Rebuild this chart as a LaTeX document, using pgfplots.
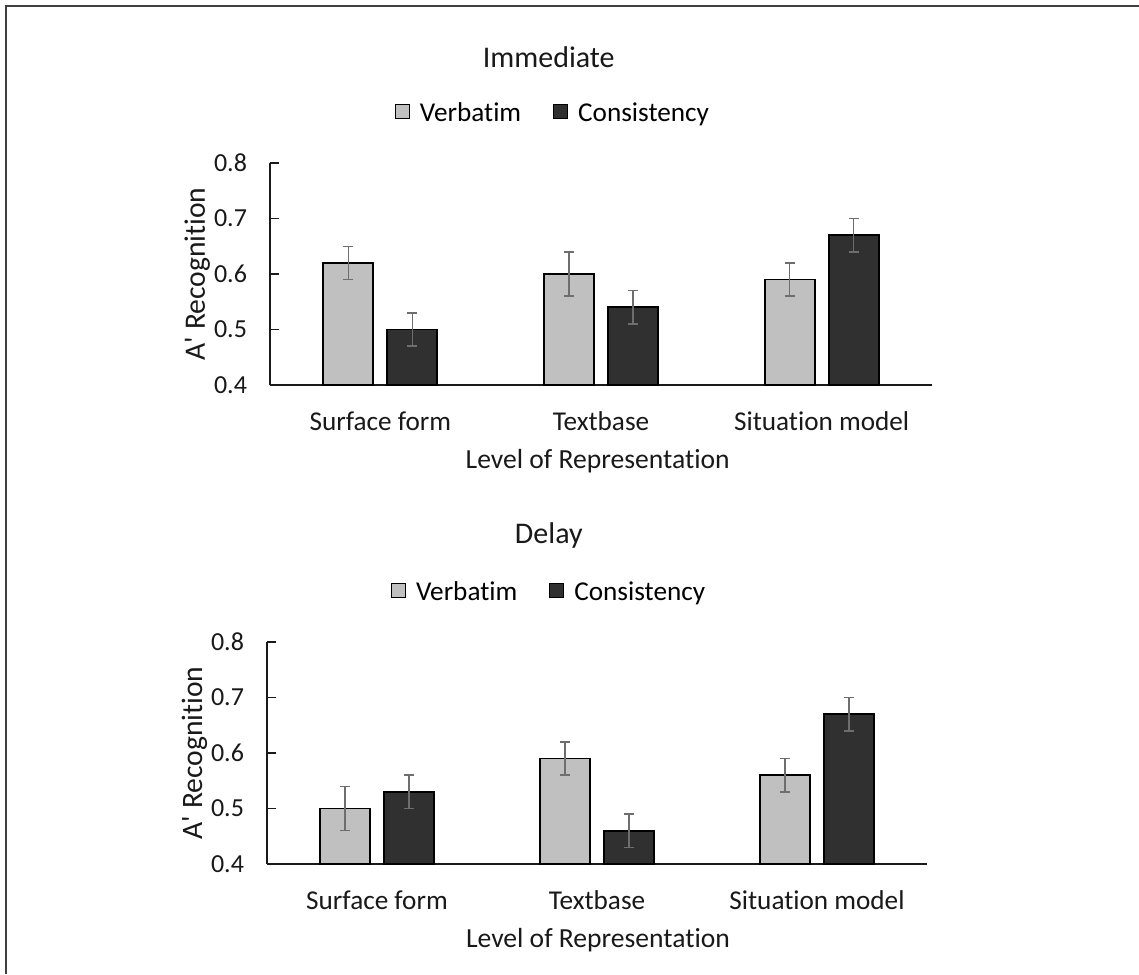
\documentclass[border=0pt]{standalone}
\usepackage{fontspec}
\setmainfont{Carlito}[Ligatures={NoCommon}]
\usepackage{pgfplots}
\pgfplotsset{compat=1.18}
\definecolor{lightbar}{HTML}{C0C0C0}
\definecolor{darkbar}{HTML}{303030}
\definecolor{errgray}{HTML}{6E6E6E}
\definecolor{axisc}{HTML}{1A1A1A}
\pgfplotsset{
 mybars/.style={
  scale only axis, width=331pt, height=111pt,
  ybar=7pt, bar width=25pt,
  xmin=-0.5, xmax=2.5, ymin=0.4, ymax=0.8,
  axis lines=left, axis line style={-, line width=0.75pt, axisc},
  xtick={0,1,2}, xticklabels={Surface form,Textbase,Situation model},
  xtick style={draw=none},
  ytick={0.4,0.5,0.6,0.7,0.8},
  ytick align=inside, major tick length=4.5pt,
  ytick style={line width=0.75pt, axisc},
  /pgf/number format/assume math mode=true,
  y tick label style={/pgf/number format/fixed, /pgf/number format/fixed zerofill, /pgf/number format/precision=1, anchor=east, xshift=-8pt, font=\fontsize{13}{15}\selectfont},
  x tick label style={yshift=-7.5pt, font=\fontsize{13.6}{16}\selectfont},
  tick label style={text=black!90},
  label style={font=\fontsize{13.8}{16}\selectfont, text=black!90},
  ylabel={A\textquotesingle{} Recognition},
  xlabel={Level of Representation},
  ylabel style={at={(axis description cs:-0.11,0.5)}, anchor=center, font=\fontsize{14.8}{17}\selectfont},
  legend columns=2,
  legend style={draw=none, fill=none, anchor=center, font=\fontsize{13.6}{16}\selectfont,
    /tikz/every odd column/.append style={column sep=3pt},
    /tikz/every even column/.append style={column sep=14pt}},
  legend image code/.code={\draw[#1,line width=0.5pt,/tikz/.cd,yshift=-0.25em] (0pt,0pt) rectangle (7pt,7pt);},
  error bars/y dir=both, error bars/y explicit,
  error bars/error bar style={line width=0.75pt, errgray},
  error bars/error mark options={rotate=90, mark size=2.5pt, line width=0.75pt, errgray},
 },
 vstyle/.style={fill=lightbar, draw=black, line width=0.9pt},
 cstyle/.style={fill=darkbar, draw=black, line width=0.9pt},
}
\begin{document}
\begin{tikzpicture}
\useasboundingbox (0,0) rectangle (569.5pt,-487pt);
\fill[white] (0,0) rectangle (569.5pt,-487pt);
\draw[line width=1pt, black!75] (3pt,-487pt) -- (3pt,-3pt) -- (569.5pt,-3pt);

\begin{axis}[mybars, at={(135pt,-192.5pt)}, anchor=south west,
  title={Immediate}, title style={at={(axis description cs:0.421,1.477)}, anchor=center, yshift=-6pt, font=\fontsize{15}{18}\selectfont, text=black!90},
  xlabel style={at={(axis description cs:0.495,-0.342)}, anchor=center},
  legend style={at={(axis description cs:0.429,1.222)}}]
\addplot[vstyle] coordinates {(0,0.62) +- (0,0.03) (1,0.60) +- (0,0.04) (2,0.59) +- (0,0.03)};
\addplot[cstyle] coordinates {(0,0.50) +- (0,0.03) (1,0.54) +- (0,0.03) (2,0.67) +- (0,0.03)};
\legend{Verbatim, Consistency}
\end{axis}

\begin{axis}[mybars, width=330pt, at={(133.5pt,-432pt)}, anchor=south west,
  title={Delay}, title style={at={(axis description cs:0.427,1.482)}, anchor=center, yshift=-6pt, font=\fontsize{15}{18}\selectfont, text=black!90},
  xlabel style={at={(axis description cs:0.5015,-0.342)}, anchor=center},
  legend style={at={(axis description cs:0.429,1.222)}}]
\addplot[vstyle] coordinates {(0,0.50) +- (0,0.04) (1,0.59) +- (0,0.03) (2,0.56) +- (0,0.03)};
\addplot[cstyle] coordinates {(0,0.53) +- (0,0.03) (1,0.46) +- (0,0.03) (2,0.67) +- (0,0.03)};
\legend{Verbatim, Consistency}
\end{axis}
\end{tikzpicture}
\end{document}
